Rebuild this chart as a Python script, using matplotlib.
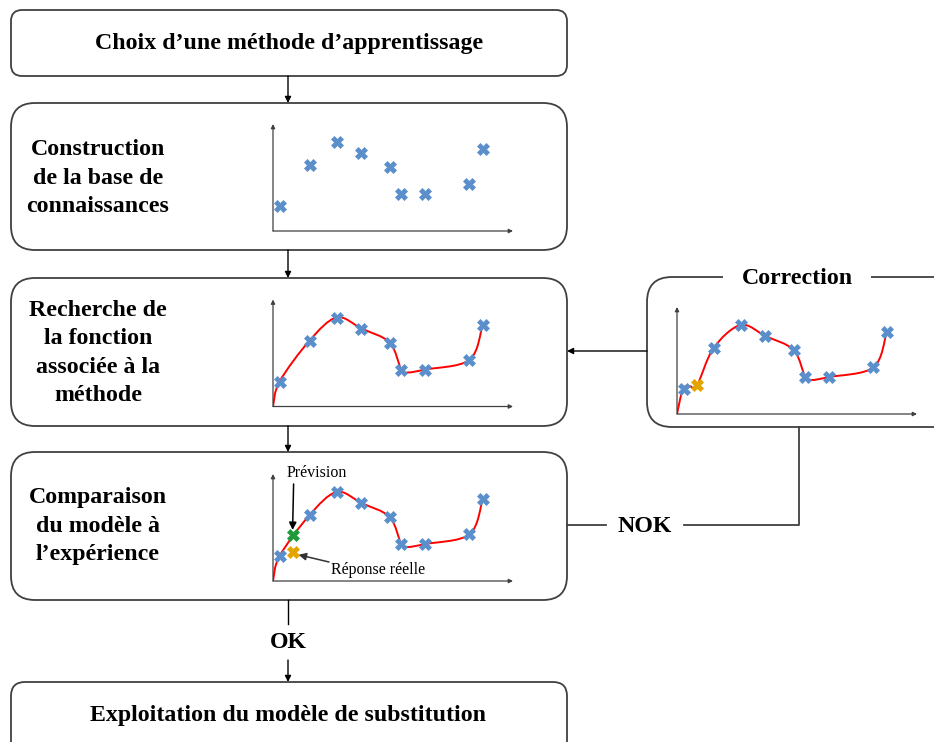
import numpy as np
import matplotlib
matplotlib.use("Agg")
import matplotlib.pyplot as plt
from matplotlib.patches import FancyBboxPatch, PathPatch
from matplotlib.path import Path

W, H = 934, 742

# points de la base de connaissances (unites arbitraires)
pts_x = [0.33, 1.83, 3.18, 4.42, 5.83, 6.42, 7.62, 9.82, 10.48]
pts_y = [1.25, 3.30, 4.45, 3.90, 3.20, 1.83, 1.85, 2.33, 4.08]

# noeuds de la fonction associee a la methode
fit_x = [0, 0.33, 1.83, 3.18, 4.42, 5.83, 6.42, 6.75, 7.62, 9.82, 10.48]
fit_y = [0, 1.25, 3.30, 4.45, 3.90, 3.20, 1.83, 1.70, 1.85, 2.33, 4.08]

# noeuds de la fonction corrigee
corr_x = [0, 0.30, 0.65, 1.00, 1.83, 3.18, 4.42, 5.83, 6.42, 6.75, 7.62, 9.82, 10.48]
corr_y = [0, 1.25, 1.38, 1.42, 3.30, 4.45, 3.90, 3.20, 1.83, 1.70, 1.85, 2.33, 4.08]

prev_x, prev_y = 0.98, 2.30   # prevision
reel_x, reel_y = 0.98, 1.43   # reponse reelle

BLUE = "#5B8FCB"
ORANGE = "#E3A400"
GREEN = "#1F9A3A"
EDGE = "#404040"
SERIF = "Liberation Serif"

fig = plt.figure(figsize=(W / 100, H / 100), dpi=100)
ax = fig.add_axes([0, 0, 1, 1])
ax.set_xlim(0, W)
ax.set_ylim(H, 0)
ax.axis("off")

# boites du logigramme (x, y, largeur, hauteur, arrondi)
boxes = [(11, 10, 556, 66, 11), (11, 103, 556, 147, 24), (11, 278, 556, 148, 24),
         (11, 452, 556, 148, 24), (11, 682, 556, 90, 14), (647, 277, 320, 150, 25)]
for x, y, w, h, r in boxes:
    ax.add_patch(FancyBboxPatch((x, y), w, h, boxstyle="round,pad=0,rounding_size=%d" % r,
                                fc="white", ec=EDGE, lw=1.3))

txt = dict(family=SERIF, weight="bold", fontsize=17.2, ha="center", va="center", linespacing=1.45)
ax.text(289, 44, "Choix d\u2019une méthode d\u2019apprentissage", **txt)
ax.text(98, 178, "Construction\nde la base de\nconnaissances", **txt)
ax.text(98, 353, "Recherche de\nla fonction\nassociée à la\nméthode", **txt)
ax.text(98, 526, "Comparaison\ndu modèle à\nl\u2019expérience", **txt)
ax.text(288, 716, "Exploitation du modèle de substitution", **txt)
ax.text(288, 642, "OK", **txt)
ax.text(645, 527, "NOK", **txt)
ax.text(797, 279, "Correction", bbox=dict(fc="white", ec="none", pad=13), **txt)

arr = dict(arrowstyle="-|>", color="black", lw=1.0, mutation_scale=9, shrinkA=0, shrinkB=0)
for y0, y1 in [(76, 103), (250, 278), (426, 452), (660, 682)]:
    ax.annotate("", xy=(288, y1), xytext=(288, y0), arrowprops=arr)
ax.plot([288, 288], [600, 624], color="black", lw=1.0)
ax.annotate("", xy=(567, 351), xytext=(647, 351), arrowprops=arr)
ax.plot([567, 606], [525, 525], color=EDGE, lw=1.3)
ax.plot([684, 799, 799], [525, 525, 427], color=EDGE, lw=1.3)


def mini_axes(x0, y0):
    m = fig.add_axes([x0 / W, 1 - y0 / H, 240 / W, 107 / H])
    m.set_xlim(0, 12)
    m.set_ylim(0, 5.35)
    m.axis("off")
    for end in [(1, 0), (0, 1)]:
        m.annotate("", xy=end, xytext=(0, 0), xycoords="axes fraction",
                   arrowprops=dict(arrowstyle="-|>", color="#404040", lw=0.9,
                                   mutation_scale=6, shrinkA=0, shrinkB=0))
    return m


def smooth(m, xs, ys):
    p = np.column_stack([xs, ys]).astype(float)
    q = np.vstack([p[0], p, p[-1]])
    verts, codes = [p[0]], [Path.MOVETO]
    for i in range(1, len(q) - 2):
        p0, p1, p2, p3 = q[i - 1:i + 3]
        verts += [p1 + (p2 - p0) / 6, p2 - (p3 - p1) / 6, p2]
        codes += [Path.CURVE4] * 3
    m.add_patch(PathPatch(Path(verts, codes), fill=False, ec="red", lw=1.4, zorder=2))


def points(m, xs, ys, c):
    m.plot(xs, ys, "X", color=c, mec=c, ms=9, mew=0.5, ls="none", zorder=3, clip_on=False)


a1 = mini_axes(273, 231)
points(a1, pts_x, pts_y, BLUE)

a2 = mini_axes(273, 406.5)
smooth(a2, fit_x, fit_y)
points(a2, pts_x, pts_y, BLUE)

a3 = mini_axes(273, 581)
smooth(a3, fit_x, fit_y)
points(a3, pts_x, pts_y, BLUE)
points(a3, [prev_x], [prev_y], GREEN)
points(a3, [reel_x], [reel_y], ORANGE)
a3.text(2.2, 5.4, "Prévision", family=SERIF, fontsize=11.5, ha="center", va="center")
a3.annotate("", xy=(prev_x, prev_y + 0.25), xytext=(1.03, 4.85),
            arrowprops=dict(arrowstyle="-|>", color="black", lw=1.1, mutation_scale=11,
                            shrinkA=0, shrinkB=0))
a3.text(2.9, 0.55, "Réponse réelle", family=SERIF, fontsize=11.5, ha="left", va="center")
a3.annotate("", xy=(reel_x + 0.3, reel_y - 0.12), xytext=(2.8, 0.95),
            arrowprops=dict(arrowstyle="-|>", color="#333333", lw=1.1, mutation_scale=11,
                            shrinkA=0, shrinkB=0))

a4 = mini_axes(677, 414)
smooth(a4, corr_x, corr_y)
points(a4, pts_x, pts_y, BLUE)
points(a4, [reel_x], [reel_y], ORANGE)

fig.savefig("out.png", dpi=100)
